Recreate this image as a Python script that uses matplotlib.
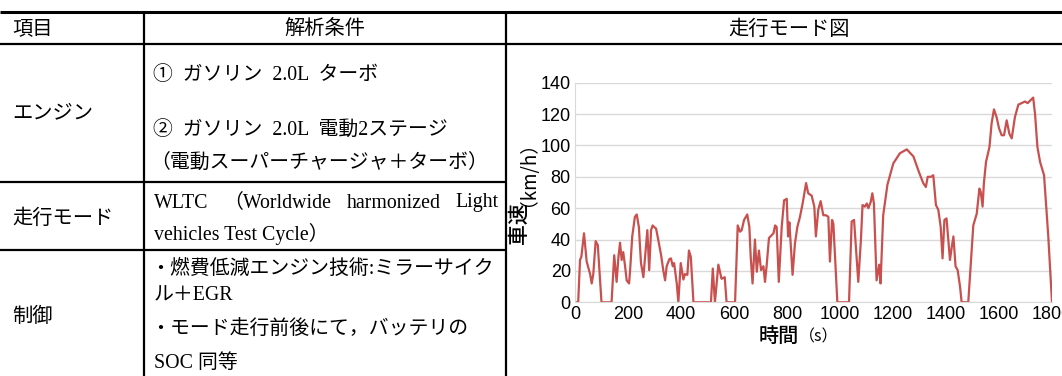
import matplotlib
matplotlib.use('Agg')
import matplotlib.pyplot as plt

# WLTC 走行モード：時間[s] と 車速[km/h]
time_s = [0, 12, 19, 24, 34, 44, 57, 63, 69, 78, 86, 100, 138, 148, 157, 164, 170, 176,
          182, 189, 195, 204, 208, 216, 226, 233, 241, 249, 258, 268, 273, 280, 287, 293,
          299, 306, 314, 325, 333, 340, 346, 356, 362, 369, 374, 384, 390, 399, 409, 415,
          424, 430, 437, 447, 513, 520, 528, 541, 553, 565, 572, 604, 614, 623, 629, 638,
          650, 658, 663, 670, 679, 686, 694, 702, 711, 717, 723, 732, 749, 755, 761, 765,
          769, 780, 789, 799, 804, 809, 814, 821, 830, 839, 849, 859, 872, 880, 893, 903,
          909, 918, 927, 937, 947, 956, 962, 970, 975, 990, 1034, 1044, 1053, 1069, 1079,
          1085, 1094, 1101, 1107, 1116, 1122, 1128, 1138, 1148, 1153, 1163, 1179, 1201,
          1226, 1252, 1277, 1298, 1314, 1324, 1331, 1343, 1352, 1362, 1371, 1380, 1387,
          1394, 1402, 1415, 1422, 1428, 1436, 1444, 1453, 1459, 1484, 1497, 1503, 1516,
          1526, 1531, 1538, 1543, 1551, 1564, 1572, 1581, 1591, 1600, 1610, 1619, 1629,
          1639, 1648, 1660, 1673, 1686, 1698, 1708, 1717, 1729, 1736, 1745, 1755, 1770,
          1786, 1800]
speed_kmh = [0, 0, 27, 29, 44, 26, 18, 12, 18, 39, 36.5, 0, 0, 30, 13, 29, 38, 27,
             32, 23, 14, 12, 20.5, 42, 54.5, 56, 48, 25, 16, 36.5, 46, 20.5, 46, 49,
             48, 47, 40, 30, 20.5, 14, 23, 27.5, 28, 23, 25, 12, 0, 25, 14.5, 18,
             17.5, 33, 29, 0, 0, 21.5, 0, 24, 15, 16, 0, 0, 49, 45, 46, 52.5,
             56, 48, 29, 12, 40, 19.5, 33, 20.5, 23, 13, 23, 41, 44, 49, 48, 31,
             13, 48, 65, 66, 42, 51, 37.5, 17.5, 37.5, 48, 54.5, 63, 76, 69.5, 68, 61,
             42, 59, 64.5, 55.5, 55.5, 54.5, 26, 52.5, 50, 0, 0, 51.5, 52.5, 13, 40,
             62, 61, 63, 60, 64, 69.5, 63, 14, 24, 12, 55.5, 75, 88.5,
             95, 97.5, 93, 83, 76, 73.5, 80, 80, 81, 62, 59, 48, 28,
             52.5, 53.5, 27, 35.5, 42, 23, 20.5, 10, 0, 0, 33, 49, 56.5,
             72.5, 70.5, 61, 76, 89.5, 99, 114, 123, 118, 111, 106.5, 106.5, 116,
             107.5, 104.5, 118, 126, 127, 128, 127, 128.5, 130.5, 120, 99, 89.5, 81,
             42, 0]

x_ticks = [0, 200, 400, 600, 800, 1000, 1200, 1400, 1600, 1800]
y_ticks = [0, 20, 40, 60, 80, 100, 120, 140]

# 表の文字列
headers = ['項目', '解析条件', '走行モード図']
row_items = ['エンジン', '走行モード', '制御']
engine_lines = ['①  ガソリン  2.0L  ターボ',
                '②  ガソリン  2.0L  電動2ステージ',
                '（電動スーパーチャージャ＋ターボ）']
mode_words = ['WLTC', '（Worldwide', 'harmonized', 'Light']
mode_line2 = 'vehicles Test Cycle）'
control_lines = ['・燃費低減エンジン技術:ミラーサイク',
                 'ル＋EGR',
                 '・モード走行前後にて，バッテリの',
                 'SOC 同等']

W, H = 1062, 376
jp = ['Liberation Serif', 'Noto Sans CJK JP']
gothic = ['Noto Sans CJK JP', 'DejaVu Sans']
narrow = ['Liberation Sans Narrow', 'Liberation Sans']

fig = plt.figure(figsize=(W / 100, H / 100), dpi=100)
fig.patch.set_facecolor('white')

# 表の罫線・文字はピクセル座標で描く
tab = fig.add_axes([0, 0, 1, 1])
tab.set_xlim(0, W)
tab.set_ylim(H, 0)
tab.axis('off')

col1, col2 = 144, 506
tab.plot([0, W], [11.5, 11.5], color='black', lw=2.2, solid_capstyle='butt')
tab.plot([0, W], [44, 44], color='black', lw=1.6, solid_capstyle='butt')
tab.plot([0, col2], [182, 182], color='black', lw=1.6, solid_capstyle='butt')
tab.plot([0, col2], [250, 250], color='black', lw=1.6, solid_capstyle='butt')
tab.plot([col1, col1], [11, H], color='black', lw=1.6, solid_capstyle='butt')
tab.plot([col2, col2], [11, H], color='black', lw=1.6, solid_capstyle='butt')

fs_head = 14.6
fs = 14.3
tab.text(12, 29, headers[0], fontsize=fs_head, family=gothic, va='center', ha='left')
tab.text((col1 + col2) / 2, 29, headers[1], fontsize=fs_head, family=gothic, va='center', ha='center')
tab.text(789, 29, headers[2], fontsize=fs_head, family=gothic, va='center', ha='center')

tab.text(12, 113, row_items[0], fontsize=fs_head, family=gothic, va='center')
tab.text(12, 218, row_items[1], fontsize=fs_head, family=gothic, va='center')
tab.text(12, 317, row_items[2], fontsize=fs_head, family=gothic, va='center')

tab.text(153, 75, engine_lines[0], fontsize=fs, family=jp, va='center')
tab.text(153, 131, engine_lines[1], fontsize=fs, family=jp, va='center')
tab.text(150, 163, engine_lines[2], fontsize=fs, family=jp, va='center')


def justify(words, x0, x1, y):
    # 単語を x0〜x1 に均等割付けする
    objs = [tab.text(0, y, w, fontsize=fs, family=jp, va='center', ha='left') for w in words]
    renderer = fig.canvas.get_renderer()
    widths = [o.get_window_extent(renderer).width for o in objs]
    gap = (x1 - x0 - sum(widths)) / (len(words) - 1)
    x = x0
    for o, w in zip(objs, widths):
        o.set_x(x)
        x += w + gap


justify(mode_words, 154, 499, 203)
tab.text(154, 234, mode_line2, fontsize=fs, family=jp, va='center')

for y, s in zip([269, 296, 330, 364], control_lines):
    tab.text(150 if s.startswith('・') else 154, y, s, fontsize=fs, family=jp, va='center')

# 走行モード図
ax = fig.add_axes([575 / W, (H - 302.3) / H, 477 / W, 219.6 / H])
ax.plot(time_s, speed_kmh, color='#C8504E', lw=1.6, solid_joinstyle='round')
ax.set_xlim(0, 1800)
ax.set_ylim(0, 140)
ax.set_xticks(x_ticks)
ax.set_yticks(y_ticks)
ax.grid(axis='y', color='#D9D9D9', lw=1)
ax.set_axisbelow(True)
for side in ['top', 'right']:
    ax.spines[side].set_visible(False)
ax.spines['left'].set_color('#D9D9D9')
ax.spines['bottom'].set_color('#D9D9D9')
ax.tick_params(length=0, pad=3, labelsize=13)
for lab in ax.get_xticklabels() + ax.get_yticklabels():
    lab.set_family(narrow)

tab.text(519, 223, '車速', fontsize=15, family=gothic, weight='medium',
         rotation=90, ha='center', va='center')
tab.text(519, 164, '（km/h）', fontsize=13.5, family=gothic, rotation=90, ha='center', va='center')
tab.text(799, 336, '時間', fontsize=14.5, family=gothic, weight='medium', ha='right', va='center')
tab.text(799, 337, '（s）', fontsize=11.5, family=gothic, ha='left', va='center')

fig.savefig('out.png', dpi=100)
